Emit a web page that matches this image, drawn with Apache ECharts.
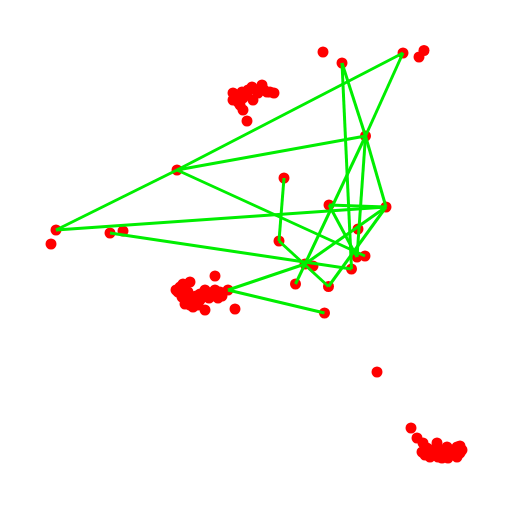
<!DOCTYPE html>
<html lang="en">
<head>
    <meta charset="UTF-8"/>
    <title>Network Layout</title>
    <script src="https://cdn.jsdelivr.net/npm/echarts@6/dist/echarts.min.js"></script>
    <style>
        html, body { margin: 0; padding: 0; background: #fff; }
    </style>
</head>
<body>

<div id="main" style="width:512px; height:512px;"></div>
<script type="text/javascript">

    // node positions (layout units, y grows downwards)
    var nodeX = [342, 403, 365.5, 284, 329, 386, 358, 279, 357, 365, 305, 313, 351.5, 295.5, 328.5, 324.5,
                 177, 56, 110, 123, 228, 323, 424, 419, 51, 215, 377];
    var nodeY = [63, 53, 136, 178, 205, 207, 229, 241, 257, 256, 264, 266, 269, 284, 286.5, 313,
                 170, 230, 233, 231, 290, 52, 50.5, 57, 244, 276, 372];

    // edges, as indices into the node arrays
    var edgeFrom = [17, 16, 1, 0, 2, 0, 16, 16, 17, 4, 2, 4, 2, 10, 5, 5, 7, 3, 18, 20, 20];
    var edgeTo   = [16, 1, 2, 2, 5, 12, 2, 9, 5, 5, 8, 8, 10, 13, 10, 14, 14, 7, 12, 10, 15];

    // dense groups of unlinked nodes
    var upperGroupX = [233, 233, 242, 243, 252, 253, 262, 267, 274, 243, 247, 247, 258, 240,
                       237, 248, 256, 264, 270, 238];
    var upperGroupY = [93, 100, 92, 98, 87, 100, 85, 92, 93, 110, 121, 95, 93, 105,
                       96, 90, 90, 90, 92, 102];

    var leftGroupX = [180, 190, 183, 187, 193, 203, 210, 215, 218, 205, 235, 178, 185, 196, 200, 209, 220, 185, 190,
                      176, 182, 188, 195, 200, 205, 212, 222, 190, 198, 183];
    var leftGroupY = [287, 282, 293, 300, 307, 297, 293, 290, 298, 310, 309, 292, 288, 296, 300, 298, 292, 304, 296,
                      290, 297, 292, 300, 294, 290, 296, 296, 305, 305, 284];

    var lowerGroupX = [411, 417, 423, 422, 430, 437, 438, 447, 448, 457, 460, 457, 445, 432, 452, 460,
                       450, 455, 440, 435, 442, 462, 427, 425];
    var lowerGroupY = [428, 438, 443, 452, 457, 443, 457, 447, 458, 447, 446, 457, 452, 450, 452, 453,
                       450, 452, 450, 455, 458, 450, 448, 455];

    var points = [];
    function addPoints(xs, ys) {
        for (var i = 0; i < xs.length; i++) {
            points.push([xs[i], ys[i]]);
        }
    }
    addPoints(nodeX, nodeY);
    addPoints(upperGroupX, upperGroupY);
    addPoints(leftGroupX, leftGroupY);
    addPoints(lowerGroupX, lowerGroupY);

    var links = [];
    for (var i = 0; i < edgeFrom.length; i++) {
        links.push({
            coords: [[nodeX[edgeFrom[i]], nodeY[edgeFrom[i]]], [nodeX[edgeTo[i]], nodeY[edgeTo[i]]]]
        });
    }

    var myChart = echarts.init(document.getElementById('main'));

    var option = {
        animation: false,
        backgroundColor: '#ffffff',
        grid: { left: 0, right: 0, top: 0, bottom: 0 },
        xAxis: { type: 'value', min: 0, max: 512, show: false },
        yAxis: { type: 'value', min: 0, max: 512, inverse: true, show: false },
        series: [
            {
                type: 'scatter',
                symbol: 'circle',
                symbolSize: 11,
                itemStyle: { color: '#ff0000', opacity: 1 },
                data: points,
                z: 2
            },
            {
                type: 'lines',
                coordinateSystem: 'cartesian2d',
                lineStyle: { color: '#00ee00', width: 3, opacity: 1 },
                data: links,
                z: 3
            }
        ]
    };

    myChart.setOption(option);
</script>

</body>
</html>
